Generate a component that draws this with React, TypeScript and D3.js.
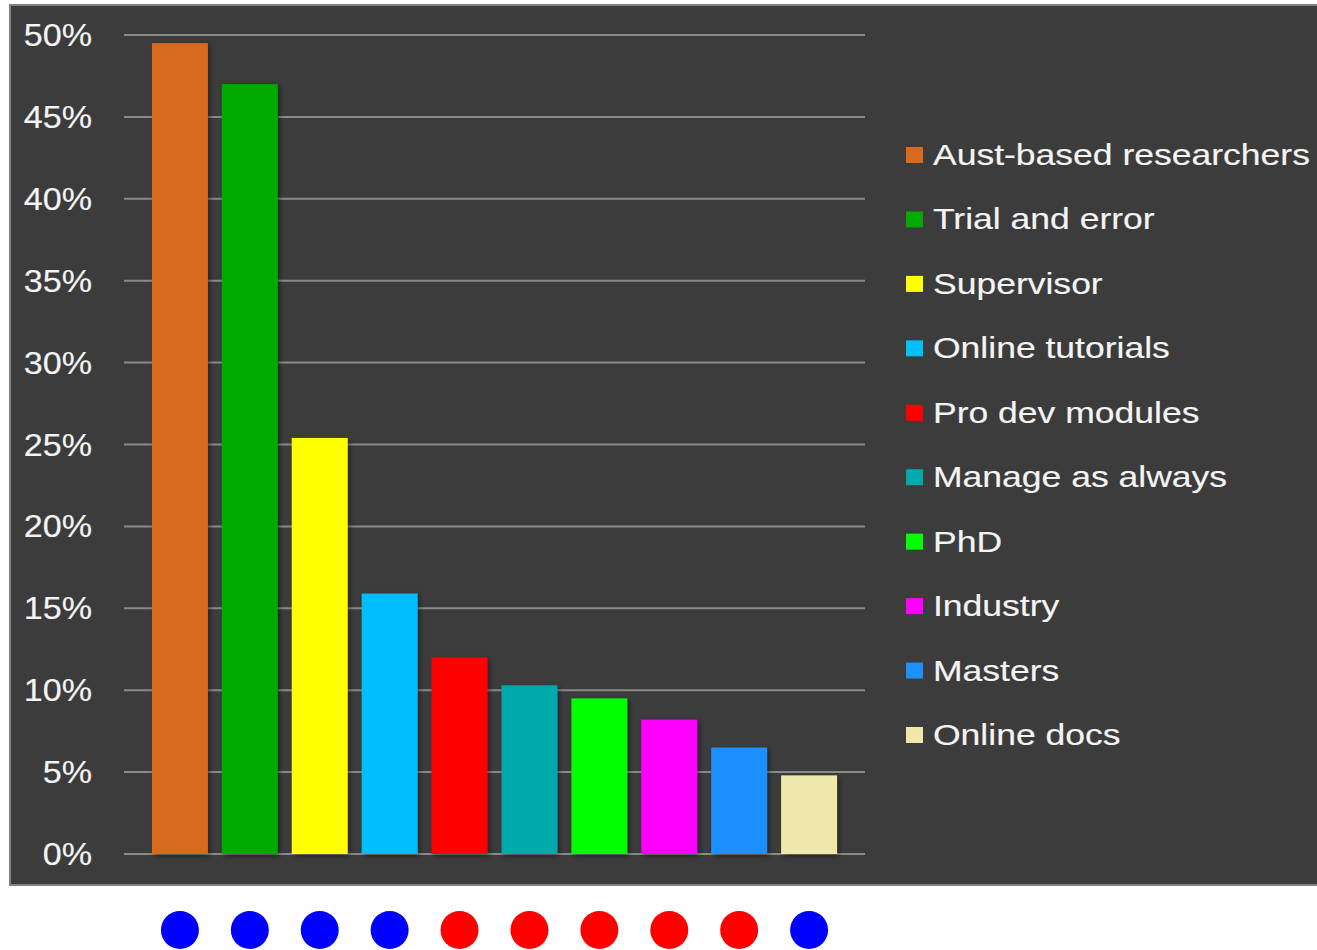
import React from 'react';
import * as d3 from 'd3';

const WIDTH = 1317;
const HEIGHT = 950;

const CATEGORIES = [
  'Aust-based researchers',
  'Trial and error',
  'Supervisor',
  'Online tutorials',
  'Pro dev modules',
  'Manage as always',
  'PhD',
  'Industry',
  'Masters',
  'Online docs',
];

const VALUES = [0.495, 0.47, 0.254, 0.159, 0.12, 0.103, 0.095, 0.082, 0.065, 0.048];

const BAR_COLORS = [
  '#D9691E',
  '#00AA00',
  '#FFFF00',
  '#00BFFF',
  '#FF0000',
  '#00AAAA',
  '#00FF00',
  '#FF00FF',
  '#1E90FF',
  '#EEE8AA',
];

// markers under the bars
const DOT_COLORS = ['#0000FF', '#0000FF', '#0000FF', '#0000FF', '#FF0000', '#FF0000', '#FF0000', '#FF0000', '#FF0000', '#0000FF'];

const Y_TICKS = [0, 0.05, 0.1, 0.15, 0.2, 0.25, 0.3, 0.35, 0.4, 0.45, 0.5];

const PLOT = { left: 124, right: 865, top: 35, bottom: 854 };
const FONT = '"Liberation Sans", Arial, sans-serif';

const App: React.FC = () => {
  const x = d3.scaleBand<string>()
    .domain(CATEGORIES)
    .range([PLOT.left, PLOT.right])
    .paddingInner(0.2)
    .paddingOuter(0.4);

  const y = d3.scaleLinear().domain([0, 0.5]).range([PLOT.bottom, PLOT.top]);

  const legendY = d3.scalePoint<string>().domain(CATEGORIES).range([155, 735]);

  const fmt = d3.format('.0%');

  return (
    <svg
      width={WIDTH}
      height={HEIGHT}
      style={{ position: 'absolute', left: 0, top: 0, display: 'block', background: '#fff' }}
    >
      <defs>
        <filter id="barShadow" x="-20%" y="-5%" width="150%" height="115%">
          <feDropShadow dx="2" dy="2" stdDeviation="2.5" floodColor="#000" floodOpacity="0.45" />
        </filter>
      </defs>

      <rect x={10} y={5} width={WIDTH - 9} height={880} fill="#3C3C3C" stroke="#828282" strokeWidth={2} />

      {Y_TICKS.map((t) => (
        <g key={t}>
          <line x1={PLOT.left} x2={PLOT.right} y1={y(t)} y2={y(t)} stroke="#8A8A8A" strokeWidth={2} />
          <text
            transform={`translate(92, ${y(t) + 11}) scale(1.1, 1)`}
            textAnchor="end"
            fill="#F4F4F4"
            stroke="#F4F4F4"
            strokeWidth={0.15}
            fontFamily={FONT}
            fontSize={31}
          >
            {fmt(t)}
          </text>
        </g>
      ))}

      {CATEGORIES.map((c, i) => (
        <rect
          key={c}
          x={x(c)}
          y={y(VALUES[i])}
          width={x.bandwidth()}
          height={y(0) - y(VALUES[i])}
          fill={BAR_COLORS[i]}
          filter="url(#barShadow)"
        />
      ))}

      {CATEGORIES.map((c, i) => (
        <g key={c} transform={`translate(906, ${legendY(c)})`}>
          <rect x={0} y={-8} width={17} height={16} fill={BAR_COLORS[i]} />
          <text
            transform="translate(27, 10) scale(1.225, 1)"
            fill="#F4F4F4"
            stroke="#F4F4F4"
            strokeWidth={0.15}
            fontFamily={FONT}
            fontSize={29}
          >
            {c}
          </text>
        </g>
      ))}

      {CATEGORIES.map((c, i) => (
        <circle key={c} cx={(x(c) ?? 0) + x.bandwidth() / 2} cy={930} r={19} fill={DOT_COLORS[i]} />
      ))}
    </svg>
  );
};

export default App;
